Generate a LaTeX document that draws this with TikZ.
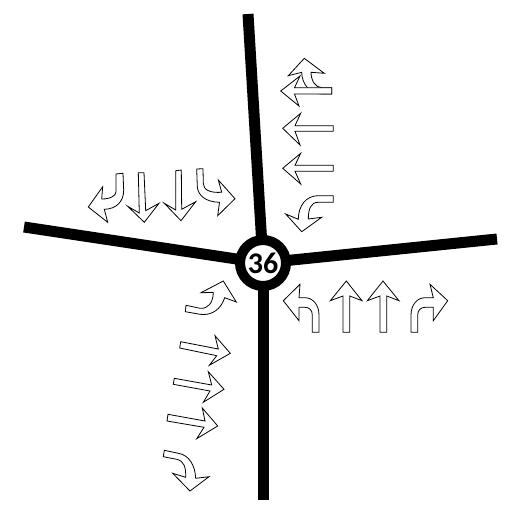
\documentclass[tikz,border=0pt]{standalone}
\usepackage{fontspec}
\setmainfont{Carlito}
\tikzset{
 road/.style={line width=11pt,draw=black},
 lane/.style={draw=black,fill=white,line width=0.8pt,line join=miter},
}
\begin{document}
\begin{tikzpicture}[x=1pt,y=-1pt]
\useasboundingbox (0,0) rectangle (508,508);
\coordinate (hub) at (263,263);
\coordinate (n) at (248,14);
\coordinate (w) at (24,227);
\coordinate (e) at (497,239);
\coordinate (s) at (263,500);
\draw[road] (n)--(hub);
\draw[road] (w)--(hub);
\draw[road] (e)--(hub);
\draw[road] (s)--(hub);
\node[circle,draw=black,fill=white,line width=10pt,minimum size=46pt,inner sep=0pt,font=\fontsize{30}{30}\selectfont\bfseries] (c) at (hub) {36};
% north-east group
\draw[lane] (331.7,94) -- (322,94) .. controls (310,94) and (301.7,84) .. (301.7,72.3) -- (288.3,75.7) -- (304.3,58.3) -- (324.3,73.3) -- (311,72.3) .. controls (311,80) and (315,87.7) .. (322,87.7) -- (331.7,87.7) -- cycle;
\draw[lane] (331.7,87.7) -- (294.5,87.7) -- (300,76) -- (280.7,91) -- (299,106) -- (294.5,94) -- (331.7,94) -- cycle;
\draw[lane] (333.3,125.7) -- (295,125.7) -- (300.7,113.3) -- (282.7,128.3) -- (300,145) -- (295,131.3) -- (333.3,131.3) -- cycle;
\draw[lane] (333.3,165.3) -- (295,165.3) -- (300.7,153.3) -- (282.7,168.3) -- (300.7,184) -- (295,171.3) -- (333.3,171.3) -- cycle;
\draw[lane] (333.3,195.7) -- (318,195.7) .. controls (306,195.7) and (298.3,206) .. (298.3,219.3) -- (285.7,214) -- (301.7,231.7) -- (321.7,217.3) -- (308.3,219) .. controls (308.3,209) and (311,202.3) .. (318,202.3) -- (333.3,202.3) -- cycle;
% west group
\draw[lane] (116,174) -- (116,191.7) .. controls (116,196) and (110,199) .. (101.7,199) -- (102.7,186.7) -- (88.3,207) -- (107.7,222.3) -- (104.3,209.3) .. controls (116,209) and (123.7,202) .. (123.7,190) -- (123,173.3) -- cycle;
\draw[lane] (138.3,172.7) -- (139.3,213) -- (127.7,206.3) -- (144.3,222.3) -- (159,203.3) -- (145.7,210.7) -- (144,172.7) -- cycle;
\draw[lane] (175.7,170.7) -- (175.7,210) -- (164.3,203.3) -- (181,220.7) -- (195.7,201.7) -- (181.7,209.3) -- (181.3,170) -- cycle;
\draw[lane] (196.7,169) -- (197.3,186.7) .. controls (198,195) and (205,202) .. (219.5,202.3) -- (217.7,215.7) -- (235,198.7) -- (218.3,180) -- (221.7,192.3) .. controls (210,193) and (203.3,190) .. (203.3,183.3) -- (203,168.7) -- cycle;
% east group
\draw[lane] (312.3,332.3) -- (312.3,315) .. controls (312.3,310) and (309,307.3) .. (305,307.3) -- (299,307.3) -- (299,320.7) -- (283.3,300.7) -- (300,284.3) -- (299,297.7) -- (305,297.7) .. controls (313,297.7) and (319,305) .. (319,315) -- (319,332.3) -- cycle;
\draw[lane] (343,332.3) -- (343,296) -- (330.3,300.7) -- (346.3,281) -- (362,300.7) -- (349.7,296) -- (349.7,332.3) -- cycle;
\draw[lane] (380,332.3) -- (380,296) -- (367.3,300.7) -- (383,281) -- (399,300.7) -- (386.7,296) -- (386.7,332.3) -- cycle;
\draw[lane] (411,332.3) -- (411,315) .. controls (411,305) and (417,297.7) .. (425,297.7) -- (433.3,297.7) -- (430,284.3) -- (447.7,300.7) -- (433.3,320.7) -- (433.3,307.3) -- (425,307.3) .. controls (421,307.3) and (417.7,310) .. (417.7,315) -- (417.7,332.3) -- cycle;
% south-west group
\draw[lane] (186,305.3) -- (200,308.3) .. controls (208,309) and (213,303) .. (213.3,292.5) -- (201,292.7) -- (223.3,281) -- (236.3,302) -- (224.7,297.7) .. controls (221,309) and (212,316) .. (200,314.3) -- (185.3,311.7) -- cycle;
\draw[lane] (180.7,341.7) -- (218.3,349) -- (215,335.7) -- (230.3,353.3) -- (209.3,365.3) -- (216.7,355.7) -- (179.7,348) -- cycle;
\draw[lane] (174.3,378.3) -- (211.7,385) -- (208.3,371.7) -- (224,389.3) -- (203.3,402.3) -- (210,391) -- (173.3,384.3) -- cycle;
\draw[lane] (168,414.3) -- (205,421) -- (202.3,408) -- (217.7,426) -- (196.7,438.7) -- (204,427.3) -- (167,421) -- cycle;
\draw[lane] (164.3,450.3) -- (178.3,453.3) .. controls (189,455) and (195,465) .. (195.7,478.3) -- (209,476.7) -- (190,491) -- (172.7,473.3) -- (185.7,477.3) .. controls (186,467) and (184,461) .. (176.7,459.3) -- (163.3,456.7) -- cycle;
\end{tikzpicture}
\end{document}
